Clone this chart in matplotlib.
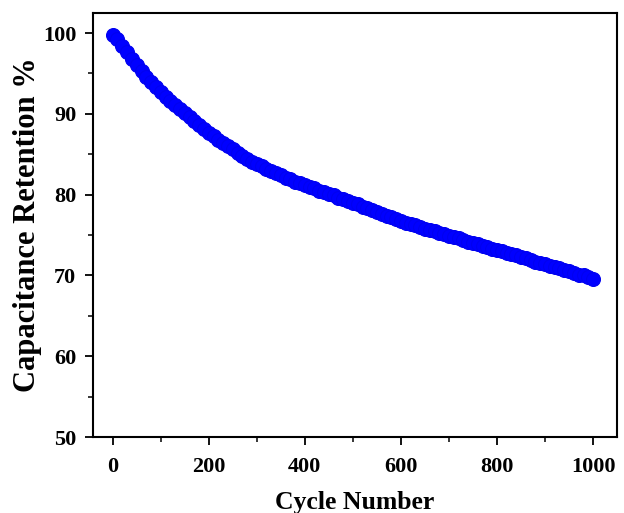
import matplotlib
matplotlib.use("Agg")
import matplotlib.pyplot as plt
from matplotlib.ticker import MultipleLocator

cycles = [1] + list(range(10, 1001, 10))
retention = [
    99.8, 99.2, 98.4, 97.6, 96.8, 96.0, 95.3, 94.6, 93.9, 93.3,
    92.7, 92.1, 91.6, 91.1, 90.6, 90.1, 89.6, 89.1, 88.6, 88.1,
    87.6, 87.2, 86.8, 86.4, 86.0, 85.6, 85.2, 84.8, 84.4, 84.1,
    83.8, 83.5, 83.2, 82.9, 82.7, 82.4, 82.1, 81.9, 81.6, 81.4,
    81.2, 81.0, 80.8, 80.5, 80.3, 80.1, 79.9, 79.6, 79.4, 79.2,
    79.0, 78.8, 78.5, 78.3, 78.1, 77.9, 77.6, 77.4, 77.2, 77.0,
    76.7, 76.5, 76.35, 76.2, 76.0, 75.8, 75.6, 75.5, 75.3, 75.1,
    74.9, 74.8, 74.6, 74.4, 74.2, 74.0, 73.9, 73.7, 73.5, 73.3,
    73.2, 73.0, 72.8, 72.6, 72.5, 72.3, 72.1, 71.9, 71.7, 71.6,
    71.4, 71.2, 71.0, 70.9, 70.7, 70.5, 70.3, 70.1, 70.0, 69.8,
    69.6,
]
xticks = [0, 200, 400, 600, 800, 1000]
yticks = [50, 60, 70, 80, 90, 100]

plt.rcParams['font.family'] = ['Liberation Serif', 'DejaVu Serif']
plt.rcParams['font.weight'] = 'bold'

fig = plt.figure(figsize=(6.24, 5.13), dpi=100)
ax = fig.add_axes([0.149, 0.148, 0.84, 0.827])

ax.plot(cycles, retention, linestyle='none', marker='o', markersize=10,
        markerfacecolor='#0000ff', markeredgecolor='#0000f0', markeredgewidth=0.8)

ax.set_xlim(-41, 1050)
ax.set_ylim(50, 102.5)
ax.set_xticks(xticks)
ax.set_yticks(yticks)
ax.xaxis.set_minor_locator(MultipleLocator(100))
ax.yaxis.set_minor_locator(MultipleLocator(5))
ax.tick_params(which='major', direction='out', length=6, width=1.3, labelsize=16)
ax.tick_params(axis='x', which='major', pad=8)
ax.tick_params(axis='y', which='major', pad=6)
ax.tick_params(which='minor', direction='out', length=3.5, width=1.1)
for lab in ax.get_xticklabels() + ax.get_yticklabels():
    lab.set_fontweight('bold')
for s in ax.spines.values():
    s.set_linewidth(1.5)

ax.set_xlabel('Cycle Number', fontsize=18.5, fontweight='bold')
ax.set_ylabel('Capacitance Retention %', fontsize=22, fontweight='bold')
ax.xaxis.set_label_coords(0.499, -0.127)
ax.yaxis.set_label_coords(-0.098, 0.5)

fig.savefig('out.png', dpi=100)
